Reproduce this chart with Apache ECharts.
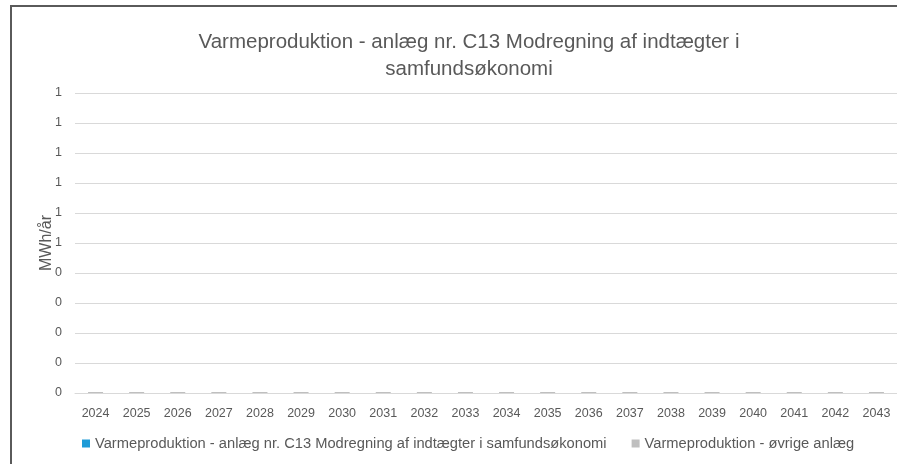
<!DOCTYPE html>
<html>
<head>
<meta charset="utf-8">
<script src="https://cdn.jsdelivr.net/npm/echarts@6/dist/echarts.min.js"></script>
<style>
html, body { margin: 0; padding: 0; background: #fff; }
.frame {
    position: absolute;
    left: 10px;
    top: 5px;
    width: 887px;
    height: 459px;
    border-left: 2px solid #5a5a5a;
    border-top: 2px solid #5a5a5a;
}
#chart { position: absolute; left: 0; top: 0; width: 897px; height: 464px; }
</style>
</head>
<body>
<div class="frame"></div>
<div id="chart"></div>
<script>
const years = ['2024', '2025', '2026', '2027', '2028', '2029', '2030', '2031', '2032', '2033',
    '2034', '2035', '2036', '2037', '2038', '2039', '2040', '2041', '2042', '2043'];
const anlaegC13 = [0, 0, 0, 0, 0, 0, 0, 0, 0, 0, 0, 0, 0, 0, 0, 0, 0, 0, 0, 0];
const oevrigeAnlaeg = [0, 0, 0, 0, 0, 0, 0, 0, 0, 0, 0, 0, 0, 0, 0, 0, 0, 0, 0, 0];

const font = 'Liberation Sans';
let myChart = echarts.init(document.getElementById('chart'));
let option = {
    animation: false,
    title: {
        text: 'Varmeproduktion - anlæg nr. C13 Modregning af indtægter i\nsamfundsøkonomi',
        left: 464,
        top: 24,
        textAlign: 'center',
        textStyle: {
            fontFamily: font,
            fontSize: 20.5,
            fontWeight: 'normal',
            color: '#595959',
            lineHeight: 27
        }
    },
    legend: {
        left: 82,
        top: 436,
        padding: 0,
        itemWidth: 8,
        itemHeight: 8,
        itemGap: 25,
        icon: 'rect',
        textStyle: { fontFamily: font, fontSize: 14.7, color: '#595959' },
        data: ['Varmeproduktion - anlæg nr. C13 Modregning af indtægter i samfundsøkonomi', 'Varmeproduktion - øvrige anlæg']
    },
    grid: { left: 75, right: 0, top: 93, bottom: 71 },
    xAxis: {
        type: 'category',
        data: years,
        axisLine: { lineStyle: { color: '#d9d9d9' } },
        axisTick: { show: false },
        axisLabel: { fontFamily: font, fontSize: 12.5, color: '#595959', margin: 14 }
    },
    yAxis: {
        type: 'value',
        min: 0,
        max: 1,
        interval: 0.1,
        name: 'MWh/år',
        nameLocation: 'middle',
        nameGap: 20,
        nameMoveOverlap: false,
        nameTextStyle: { fontFamily: font, fontSize: 16, color: '#595959' },
        axisLine: { show: false },
        axisTick: { show: false },
        splitLine: { lineStyle: { color: '#d9d9d9' } },
        axisLabel: {
            fontFamily: font, fontSize: 12.5, color: '#595959', margin: 13,
            formatter: function (v) { return String(Math.round(v)); }
        }
    },
    series: [
        {
            name: 'Varmeproduktion - anlæg nr. C13 Modregning af indtægter i samfundsøkonomi',
            type: 'bar',
            stack: 'total',
            barWidth: 15,
            itemStyle: { color: '#1e9bd7' },
            data: anlaegC13
        },
        {
            name: 'Varmeproduktion - øvrige anlæg',
            type: 'bar',
            stack: 'total',
            barWidth: 15,
            barMinHeight: 1,
            itemStyle: { color: '#bfbfbf' },
            data: oevrigeAnlaeg
        }
    ]
};
myChart.setOption(option);
</script>
</body>
</html>
